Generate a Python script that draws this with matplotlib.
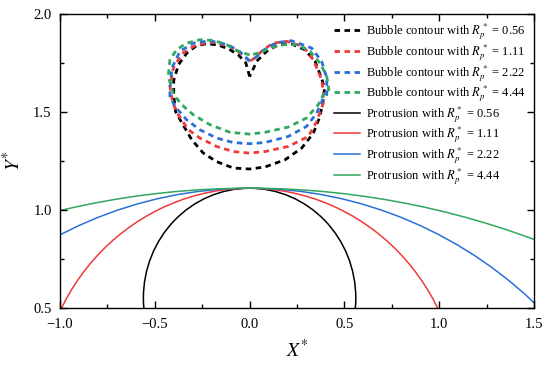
import matplotlib
matplotlib.use('Agg')
import matplotlib.pyplot as plt
from matplotlib.patches import Circle
from matplotlib.lines import Line2D
from matplotlib.ticker import MultipleLocator

plt.rcParams['font.family'] = ['Liberation Serif', 'DejaVu Serif']
plt.rcParams['mathtext.fontset'] = 'stix'

radii = [0.56, 1.11, 2.22, 4.44]
apex_y = 1.11
colors = ['black', '#f03a3a', '#2a70d8', '#30a860']

# bubble contours (start at the cusp, go round counter-clockwise)
black_x = [0.00, -0.02, -0.06, -0.11, -0.165, -0.225, -0.28, -0.33, -0.375, -0.40, -0.40, -0.39, -0.355,
           -0.305, -0.245, -0.175, -0.086, 0.0, 0.08, 0.187, 0.275, 0.336, 0.371, 0.39, 0.395, 0.38,
           0.345, 0.292, 0.222, 0.151, 0.09, 0.037, 0.011, 0.00]
black_y = [1.68, 1.75, 1.79, 1.82, 1.84, 1.847, 1.837, 1.80, 1.74, 1.66, 1.58, 1.50, 1.44,
           1.357, 1.29, 1.246, 1.213, 1.208, 1.218, 1.255, 1.315, 1.39, 1.476, 1.57, 1.62, 1.67,
           1.757, 1.816, 1.845, 1.842, 1.808, 1.757, 1.70, 1.68]

red_x = [0.00, -0.05, -0.103, -0.19, -0.28, -0.35, -0.40, -0.42, -0.405, -0.376, -0.323, -0.262, -0.174,
         -0.086, 0.0, 0.081, 0.204, 0.31, 0.354, 0.389, 0.389, 0.38, 0.336, 0.283, 0.196, 0.125,
         0.072, 0.028, 0.00]
red_y = [1.757, 1.80, 1.833, 1.854, 1.842, 1.80, 1.731, 1.629, 1.544, 1.485, 1.408, 1.366, 1.323,
         1.297, 1.289, 1.297, 1.323, 1.374, 1.45, 1.544, 1.60, 1.663, 1.765, 1.833, 1.859, 1.85,
         1.816, 1.774, 1.757]

blue_x = [0.00, -0.05, -0.11, -0.209, -0.297, -0.367, -0.41, -0.42, -0.42, -0.393, -0.332, -0.262, -0.174,
          -0.086, 0.0, 0.081, 0.204, 0.30, 0.354, 0.389, 0.407, 0.407, 0.38, 0.327, 0.222, 0.14,
          0.075, 0.03, 0.00]
blue_y = [1.76, 1.805, 1.84, 1.862, 1.85, 1.808, 1.723, 1.62, 1.578, 1.527, 1.459, 1.408, 1.366,
          1.343, 1.337, 1.343, 1.374, 1.425, 1.493, 1.57, 1.587, 1.672, 1.757, 1.825, 1.862, 1.852,
          1.815, 1.775, 1.76]

green_x = [0.00, -0.06, -0.121, -0.19, -0.262, -0.332, -0.385, -0.42, -0.429, -0.40, -0.358, -0.297,
           -0.209, -0.103, 0.0, 0.081, 0.204, 0.30, 0.362, 0.398, 0.418, 0.407, 0.371, 0.319, 0.248,
           0.178, 0.108, 0.055, 0.00]
green_y = [1.79, 1.808, 1.842, 1.864, 1.867, 1.85, 1.816, 1.765, 1.68, 1.587, 1.536, 1.485,
           1.434, 1.395, 1.386, 1.395, 1.422, 1.468, 1.536, 1.604, 1.612, 1.68, 1.748, 1.808, 1.842,
           1.842, 1.825, 1.80, 1.79]

contours_x = [black_x, red_x, blue_x, green_x]
contours_y = [black_y, red_y, blue_y, green_y]

fig = plt.figure(figsize=(5.5, 3.7), dpi=100)
ax = fig.add_axes([0.109, 0.168, 0.862, 0.795])

dash = (0, (2.0, 1.6))
handles = []
for cx, cy, c, r in zip(contours_x, contours_y, colors, radii):
    ax.plot(cx, cy, color=c, lw=2.0, ls=dash)
    handles.append(Line2D([], [], color=c, lw=2.0, ls=dash,
                          label=r'Bubble contour with $R_p^*$ = %.2f' % r))

for c, r in zip(colors, radii):
    ax.add_patch(Circle((0, apex_y - r), r, fill=False, edgecolor=c, lw=1.1))
    handles.append(Line2D([], [], color=c, lw=1.1, label=r'Protrusion with $R_p^*$ = %.2f' % r))

ax.set_xlim(-1.0, 1.5)
ax.set_ylim(0.5, 2.0)
ax.xaxis.set_major_locator(MultipleLocator(0.5))
ax.xaxis.set_minor_locator(MultipleLocator(0.25))
ax.yaxis.set_major_locator(MultipleLocator(0.5))
ax.yaxis.set_minor_locator(MultipleLocator(0.25))
ax.tick_params(which='both', direction='in', top=True, right=True, labelsize=10.5)
ax.tick_params(which='major', length=5, width=1)
ax.tick_params(which='minor', length=3, width=1)
ax.tick_params(axis='x', pad=7)
ax.tick_params(axis='y', pad=6)
for s in ax.spines.values():
    s.set_linewidth(1.0)

ax.set_xlabel(r'$X^{*}$', fontsize=14, labelpad=6)
ax.set_ylabel(r'$Y^{*}$', fontsize=14)
ax.yaxis.set_label_coords(-0.075, 0.5)

ax.legend(handles=handles, loc='upper right', frameon=False, fontsize=9.0,
          handlelength=2.1, handletextpad=0.5, labelspacing=0.0,
          borderaxespad=0.3, borderpad=0.35)

fig.savefig('out.png', dpi=100)
